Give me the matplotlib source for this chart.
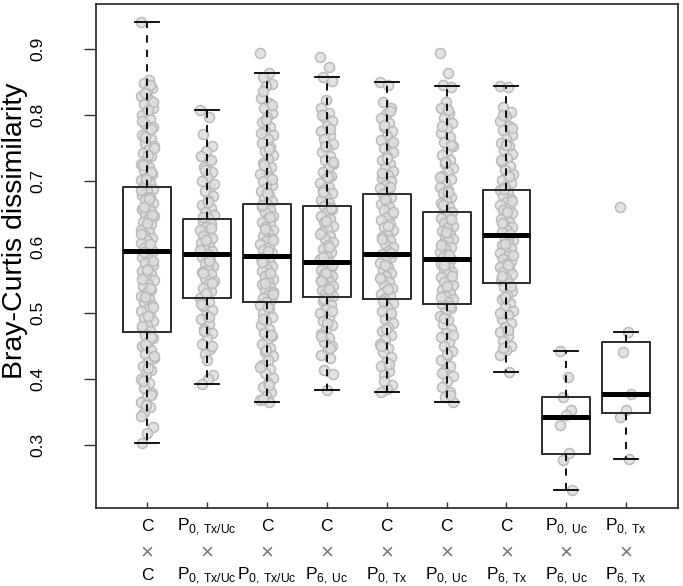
import matplotlib
matplotlib.use('Agg')
import matplotlib.pyplot as plt
import numpy as np

plt.rcParams['font.family'] = ['Liberation Sans', 'DejaVu Sans']
plt.rcParams['mathtext.fontset'] = 'custom'
plt.rcParams['mathtext.rm'] = 'Liberation Sans'

top_labels = ['C', r'P$_{\mathregular{0,\,Tx/Uc}}$', 'C', 'C', 'C', 'C', 'C',
              r'P$_{\mathregular{0,\,Uc}}$', r'P$_{\mathregular{0,\,Tx}}$']
bottom_labels = ['C', r'P$_{\mathregular{0,\,Tx/Uc}}$', r'P$_{\mathregular{0,\,Tx/Uc}}$',
                 r'P$_{\mathregular{6,\,Uc}}$', r'P$_{\mathregular{0,\,Tx}}$',
                 r'P$_{\mathregular{0,\,Uc}}$', r'P$_{\mathregular{6,\,Tx}}$',
                 r'P$_{\mathregular{6,\,Uc}}$', r'P$_{\mathregular{6,\,Tx}}$']

# box statistics
q1 = [0.471, 0.5225, 0.516, 0.524, 0.521, 0.513, 0.545, 0.2864, 0.3476]
med = [0.594, 0.589, 0.586, 0.5766, 0.589, 0.582, 0.6175, 0.3415, 0.3769]
q3 = [0.690, 0.642, 0.665, 0.662, 0.680, 0.652, 0.686, 0.373, 0.4553]
whislo = [0.302, 0.392, 0.364, 0.3825, 0.380, 0.364, 0.410, 0.2313, 0.278]
whishi = [0.941, 0.808, 0.863, 0.858, 0.849, 0.843, 0.844, 0.4425, 0.471]

# individual dissimilarities (estimated from the strip of points)
g1 = [0.941,
      0.853, 0.848, 0.841, 0.836, 0.829, 0.822, 0.817, 0.811, 0.804, 0.799, 0.793, 0.786, 0.781,
      0.775, 0.77, 0.764, 0.758, 0.753, 0.747, 0.742, 0.737, 0.731, 0.726, 0.721, 0.716, 0.711,
      0.706, 0.701, 0.697, 0.692, 0.688, 0.684, 0.679, 0.675, 0.671, 0.667, 0.662, 0.658, 0.654,
      0.65, 0.646, 0.642, 0.638, 0.634, 0.63, 0.626, 0.622, 0.618, 0.614, 0.61, 0.606, 0.602,
      0.598, 0.594, 0.59, 0.585, 0.581, 0.576, 0.572, 0.567, 0.563, 0.558, 0.554, 0.549, 0.544,
      0.54, 0.535, 0.53, 0.526, 0.521, 0.516, 0.511, 0.506, 0.502, 0.497, 0.492, 0.487, 0.482,
      0.477, 0.472, 0.466, 0.461, 0.455, 0.449, 0.444, 0.438, 0.432, 0.426, 0.42, 0.413, 0.407,
      0.4, 0.393, 0.386, 0.379, 0.372, 0.365, 0.357, 0.35, 0.327, 0.318, 0.302,
      0.845, 0.833, 0.819, 0.808, 0.79, 0.778, 0.767, 0.75, 0.739, 0.724, 0.713, 0.703, 0.686,
      0.673, 0.66, 0.648, 0.636, 0.62, 0.604, 0.592, 0.579, 0.565, 0.551, 0.538, 0.524, 0.509,
      0.495, 0.48, 0.463, 0.452, 0.435, 0.417, 0.397, 0.376, 0.36, 0.344]
g2 = [0.808, 0.796, 0.771, 0.752, 0.745, 0.738, 0.73, 0.721, 0.714, 0.706, 0.699, 0.691, 0.684,
      0.677, 0.671, 0.664, 0.659, 0.653, 0.648, 0.643, 0.639, 0.634, 0.63, 0.626, 0.621, 0.617,
      0.613, 0.609, 0.605, 0.601, 0.597, 0.593, 0.589, 0.585, 0.58, 0.576, 0.571, 0.567, 0.562,
      0.558, 0.553, 0.548, 0.543, 0.538, 0.533, 0.528, 0.523, 0.517, 0.51, 0.504, 0.497, 0.49,
      0.483, 0.476, 0.469, 0.461, 0.453, 0.445, 0.437, 0.406, 0.399, 0.392,
      0.732, 0.717, 0.695, 0.668, 0.645, 0.628, 0.611, 0.595, 0.578, 0.56, 0.545, 0.53, 0.514,
      0.494, 0.473, 0.449, 0.428]
g3 = [0.893, 0.863, 0.858, 0.846, 0.843, 0.826, 0.818, 0.81, 0.803, 0.796, 0.789, 0.782, 0.776,
      0.769, 0.763, 0.757, 0.751, 0.745, 0.739, 0.733, 0.727, 0.721, 0.716, 0.71, 0.705, 0.699,
      0.694, 0.689, 0.684, 0.679, 0.674, 0.669, 0.665, 0.661, 0.656, 0.652, 0.647, 0.643, 0.638,
      0.634, 0.63, 0.625, 0.621, 0.617, 0.612, 0.608, 0.604, 0.6, 0.595, 0.591, 0.587, 0.583,
      0.579, 0.575, 0.571, 0.567, 0.563, 0.559, 0.555, 0.551, 0.547, 0.543, 0.539, 0.535, 0.531,
      0.527, 0.523, 0.519, 0.516, 0.511, 0.505, 0.5, 0.494, 0.488, 0.482, 0.476, 0.47, 0.464,
      0.458, 0.452, 0.446, 0.44, 0.434, 0.428, 0.421, 0.415, 0.408, 0.401, 0.394, 0.387, 0.38,
      0.374, 0.367, 0.364,
      0.836, 0.815, 0.792, 0.772, 0.748, 0.724, 0.702, 0.682, 0.663, 0.645, 0.627, 0.61, 0.593,
      0.577, 0.561, 0.545, 0.529, 0.508, 0.49, 0.467, 0.443, 0.418, 0.39, 0.37]
g4 = [0.888, 0.873, 0.858, 0.852, 0.823, 0.811, 0.803, 0.797, 0.79, 0.783, 0.776, 0.769, 0.763,
      0.756, 0.75, 0.744, 0.738, 0.732, 0.726, 0.72, 0.714, 0.708, 0.702, 0.697, 0.691, 0.686,
      0.681, 0.676, 0.671, 0.666, 0.662, 0.657, 0.652, 0.647, 0.642, 0.637, 0.632, 0.627, 0.622,
      0.617, 0.612, 0.607, 0.602, 0.597, 0.592, 0.587, 0.582, 0.577, 0.574, 0.571, 0.568, 0.565,
      0.562, 0.559, 0.556, 0.553, 0.55, 0.547, 0.544, 0.541, 0.538, 0.535, 0.532, 0.529, 0.526,
      0.524, 0.518, 0.512, 0.506, 0.5, 0.494, 0.487, 0.481, 0.475, 0.468, 0.462, 0.455, 0.449,
      0.442, 0.436, 0.431, 0.413, 0.407, 0.383,
      0.8, 0.779, 0.753, 0.729, 0.705, 0.683, 0.659, 0.639, 0.619, 0.599, 0.584, 0.572, 0.56,
      0.548, 0.536, 0.521, 0.503, 0.484, 0.465, 0.446]
g5 = [0.849, 0.845, 0.82, 0.81, 0.802, 0.795, 0.788, 0.781, 0.775, 0.768, 0.762, 0.756, 0.75,
      0.744, 0.738, 0.732, 0.726, 0.72, 0.715, 0.709, 0.704, 0.699, 0.694, 0.689, 0.684, 0.68,
      0.675, 0.67, 0.665, 0.66, 0.655, 0.65, 0.645, 0.64, 0.635, 0.63, 0.625, 0.62, 0.615, 0.61,
      0.604, 0.599, 0.594, 0.589, 0.584, 0.579, 0.575, 0.57, 0.565, 0.561, 0.556, 0.551, 0.547,
      0.542, 0.538, 0.534, 0.529, 0.525, 0.521, 0.515, 0.509, 0.503, 0.497, 0.491, 0.485, 0.479,
      0.473, 0.466, 0.46, 0.453, 0.446, 0.44, 0.433, 0.426, 0.419, 0.412, 0.405, 0.39, 0.384, 0.38,
      0.806, 0.785, 0.759, 0.735, 0.712, 0.691, 0.672, 0.652, 0.632, 0.612, 0.591, 0.572, 0.553,
      0.536, 0.518, 0.5, 0.476, 0.45, 0.422, 0.397]
g6 = [0.893, 0.863, 0.845, 0.842, 0.82, 0.811, 0.803, 0.795, 0.787, 0.78, 0.773, 0.766, 0.759,
      0.752, 0.745, 0.739, 0.732, 0.726, 0.72, 0.714, 0.708, 0.702, 0.697, 0.691, 0.686, 0.681,
      0.676, 0.671, 0.666, 0.661, 0.656, 0.652, 0.648, 0.644, 0.64, 0.636, 0.632, 0.628, 0.624,
      0.62, 0.616, 0.612, 0.608, 0.604, 0.6, 0.596, 0.592, 0.589, 0.585, 0.582, 0.578, 0.574,
      0.57, 0.566, 0.562, 0.558, 0.554, 0.55, 0.546, 0.542, 0.538, 0.534, 0.53, 0.526, 0.521,
      0.517, 0.513, 0.507, 0.501, 0.495, 0.489, 0.483, 0.476, 0.47, 0.463, 0.456, 0.449, 0.442,
      0.435, 0.428, 0.42, 0.412, 0.404, 0.396, 0.388, 0.38, 0.372, 0.364,
      0.807, 0.783, 0.755, 0.729, 0.705, 0.683, 0.663, 0.642, 0.622, 0.602, 0.587, 0.572, 0.556,
      0.54, 0.524, 0.51, 0.492, 0.466, 0.438, 0.408, 0.376]
g7 = [0.844, 0.842, 0.812, 0.805, 0.798, 0.79, 0.783, 0.777, 0.77, 0.764, 0.758, 0.752, 0.746,
      0.74, 0.734, 0.728, 0.722, 0.716, 0.711, 0.706, 0.701, 0.696, 0.691, 0.686, 0.682, 0.677,
      0.673, 0.668, 0.664, 0.66, 0.655, 0.651, 0.646, 0.642, 0.638, 0.634, 0.63, 0.626, 0.622,
      0.618, 0.614, 0.61, 0.606, 0.602, 0.598, 0.594, 0.59, 0.586, 0.582, 0.578, 0.574, 0.57,
      0.566, 0.562, 0.558, 0.553, 0.549, 0.545, 0.539, 0.533, 0.527, 0.521, 0.515, 0.509, 0.503,
      0.497, 0.491, 0.485, 0.478, 0.471, 0.464, 0.457, 0.45, 0.443, 0.436, 0.41,
      0.8, 0.78, 0.755, 0.731, 0.708, 0.688, 0.67, 0.653, 0.636, 0.62, 0.604, 0.588, 0.572,
      0.556, 0.541, 0.524, 0.5, 0.474, 0.446]
g8 = [0.4425, 0.403, 0.373, 0.352, 0.345, 0.33, 0.287, 0.277, 0.231]
g9 = [0.66, 0.471, 0.441, 0.377, 0.352, 0.342, 0.278]
groups = [g1, g2, g3, g4, g5, g6, g7, g8, g9]

fig = plt.figure(figsize=(6.83, 5.86), dpi=100)
ax = fig.add_axes([0.140, 0.1326, 0.8523, 0.8606])

pos = np.arange(1, len(groups) + 1)

# jittered points (fixed, repeatable offsets)
for p, g in zip(pos, groups):
    idx = np.arange(len(g))
    jit = (((idx * 37) % 23) / 22 - 0.5) * 0.22
    ax.plot(p + jit, g, 'o', ms=7.2, mfc=(0.87, 0.87, 0.87, 0.85),
            mec=(0.73, 0.73, 0.73), mew=1.1, zorder=2)

stats = []
for i in range(len(groups)):
    stats.append({'q1': q1[i], 'med': med[i], 'q3': q3[i],
                  'whislo': whislo[i], 'whishi': whishi[i], 'fliers': []})

ax.bxp(stats, positions=pos, widths=0.8, capwidths=0.4, showfliers=False,
       patch_artist=False,
       boxprops=dict(color='#2b2b2b', lw=1.4),
       medianprops=dict(color='black', lw=3.6, solid_capstyle='butt'),
       whiskerprops=dict(color='black', lw=1.3, linestyle=(0, (4, 4))),
       capprops=dict(color='black', lw=1.3),
       zorder=3)

ax.set_xlim(0.14, 9.86)
ax.set_ylim(0.2036, 0.968)
ax.set_yticks([0.3, 0.4, 0.5, 0.6, 0.7, 0.8, 0.9])
ax.set_yticklabels(['0.3', '0.4', '0.5', '0.6', '0.7', '0.8', '0.9'],
                   rotation=90, va='center', fontsize=12.5)
ax.tick_params(axis='y', length=9, width=1, color='#333333', pad=27)
ax.set_xticks(pos)
ax.set_xticklabels([])
ax.tick_params(axis='x', direction='in', length=4, width=1, color='#333333')
for s in ax.spines.values():
    s.set_color('#333333')
    s.set_linewidth(1.3)

ax.set_ylabel('Bray-Curtis dissimilarity', fontsize=20.5, va='center')
ax.yaxis.set_label_coords((15 - 95.7) / 582, 0.55)

tr = ax.get_xaxis_transform()
for p, top, bot in zip(pos, top_labels, bottom_labels):
    ax.text(p, -0.037, top, transform=tr, ha='center', va='center', fontsize=12.5)
    ax.text(p, -0.089, '×', transform=tr, ha='center', va='center', fontsize=16,
            color='#777777')
    ax.text(p, -0.133, bot, transform=tr, ha='center', va='center', fontsize=12.5)

fig.savefig('out.png', dpi=100)
